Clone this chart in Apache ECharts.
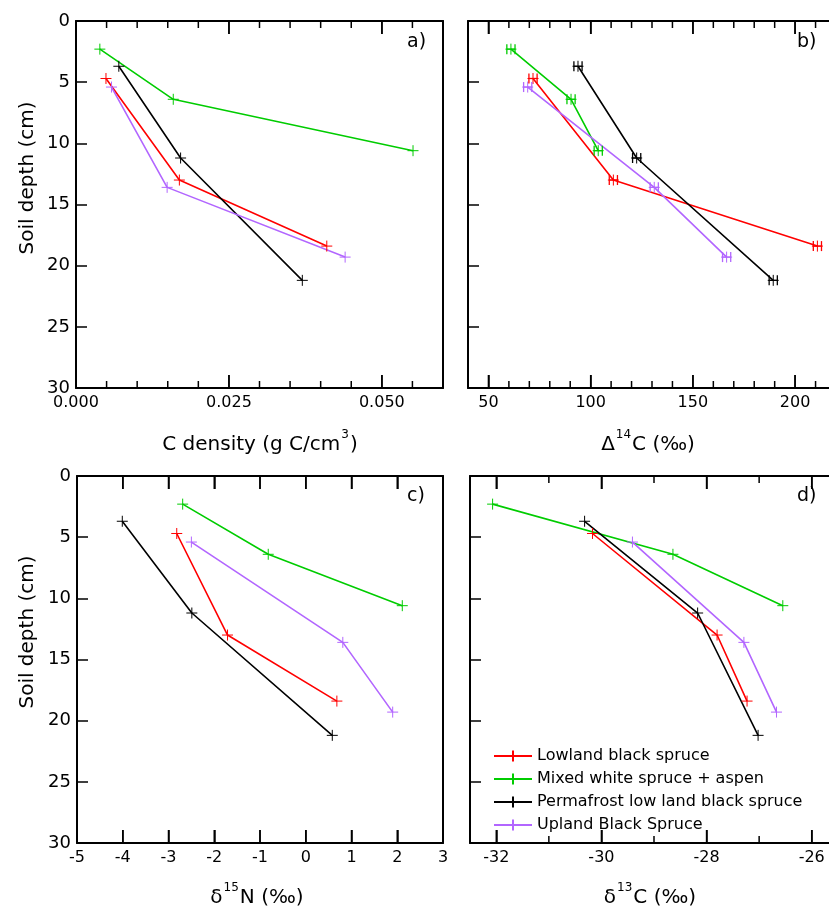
<!DOCTYPE html>
<html>
<head>
<meta charset="utf-8">
<script src="https://cdn.jsdelivr.net/npm/echarts@6/dist/echarts.min.js"></script>
<style>
  html, body { margin: 0; padding: 0; background: #ffffff; }
  #chart { width: 829px; height: 907px; }
</style>
</head>
<body>
<div id="chart"></div>
<script>
// Soil profiles: C density and isotope signatures versus depth for four stand types.
const FONT = 'DejaVu Sans';

const standNames = [
  'Lowland black spruce',
  'Mixed white spruce + aspen',
  'Permafrost low land black spruce',
  'Upland Black Spruce'
];
const standColors = ['#ff0000', '#00cc00', '#000000', '#b266ff'];

// Sample mid-depths (cm)
const depthLowland    = [4.7, 13.0, 18.4];
const depthMixed      = [2.3, 6.4, 10.6];
const depthPermafrost = [3.7, 11.2, 21.2];
const depthUpland     = [5.4, 13.6, 19.3];

// a) carbon density (g C / cm3)
const cDensLowland    = [0.0049, 0.0169, 0.0410];
const cDensMixed      = [0.0039, 0.0159, 0.0551];
const cDensPermafrost = [0.0070, 0.0171, 0.0370];
const cDensUpland     = [0.0058, 0.0149, 0.0440];

// b) radiocarbon, Delta14C (permil) and its analytical uncertainty
const d14cLowland    = [71.8, 111.1, 210.9];
const d14cMixed      = [61.0, 90.4, 103.7];
const d14cPermafrost = [93.8, 122.5, 189.3];
const d14cUpland     = [69.2, 131.1, 166.5];
const d14cErrLowland    = [2, 2, 2];
const d14cErrMixed      = [2, 2, 2];
const d14cErrPermafrost = [2, 2, 2];
const d14cErrUpland     = [2, 2, 2];

// c) delta15N (permil)
const d15nLowland    = [-2.82, -1.71, 0.68];
const d15nMixed      = [-2.69, -0.82, 2.11];
const d15nPermafrost = [-4.01, -2.49, 0.58];
const d15nUpland     = [-2.50, 0.81, 1.90];

// d) delta13C (permil)
const d13cLowland    = [-30.17, -27.80, -27.23];
const d13cMixed      = [-32.07, -28.64, -26.55];
const d13cPermafrost = [-30.32, -28.17, -27.02];
const d13cUpland     = [-29.41, -27.29, -26.67];

// Tick values along the x frames (labelled majors, shorter minors)
const cDensMajor = [0, 0.025, 0.05];
const cDensMinor = [0.005, 0.01, 0.015, 0.02, 0.03, 0.035, 0.04, 0.045, 0.055];
const d14cMajor  = [50, 100, 150, 200];
const d14cMinor  = [60, 70, 80, 90, 110, 120, 130, 140, 160, 170, 180, 190, 210];
const d15nMajor  = [-5, -4, -3, -2, -1, 0, 1, 2, 3];
const d13cMajor  = [-32, -30, -28, -26];
const d13cMinor  = [-31, -29, -27];

const depths = [depthLowland, depthMixed, depthPermafrost, depthUpland];

const panels = [
  { box: { left: 76, top: 21, width: 367, height: 367 }, min: 0, max: 0.06,
    spacing: { interval: 0.025 }, major: cDensMajor, minor: cDensMinor,
    fmt: v => v.toFixed(3), showMin: true, showMax: false, depthLabels: true, frameRight: true,
    values: [cDensLowland, cDensMixed, cDensPermafrost, cDensUpland] },
  { box: { left: 468, top: 21, width: 368, height: 367 }, min: 40, max: 220,
    spacing: { splitNumber: 4 }, major: d14cMajor, minor: d14cMinor,
    fmt: v => String(v), showMin: false, showMax: false, depthLabels: false, frameRight: false,
    values: [d14cLowland, d14cMixed, d14cPermafrost, d14cUpland],
    errors: [d14cErrLowland, d14cErrMixed, d14cErrPermafrost, d14cErrUpland] },
  { box: { left: 77, top: 476, width: 366, height: 367 }, min: -5, max: 3,
    spacing: { interval: 1 }, major: d15nMajor, minor: [],
    fmt: v => String(v), showMin: true, showMax: true, depthLabels: true, frameRight: true,
    values: [d15nLowland, d15nMixed, d15nPermafrost, d15nUpland] },
  { box: { left: 470, top: 476, width: 368, height: 367 }, min: -32.5, max: -25.5,
    spacing: { splitNumber: 3 }, major: d13cMajor, minor: d13cMinor,
    fmt: v => String(v), showMin: false, showMax: false, depthLabels: false, frameRight: false,
    values: [d13cLowland, d13cMixed, d13cPermafrost, d13cUpland] }
];

const MAJOR_LEN = 13, MINOR_LEN = 7;
const lineOf = (show) => ({ show, onZero: false, lineStyle: { color: '#000', width: 2 } });
const tickStyle = { color: '#000', width: 1.5 };
const grids = [], xAxes = [], yAxes = [], series = [];

// Inward tick marks on the bottom (depth 30) and top (depth 0) frames,
// positioned through the panel's own x and y scales. Each item is anchored
// mid-profile so it always lies inside the plot area.
function frameTicks(xIndex, yIndex, values, len) {
  return {
    type: 'custom', name: 'frame ticks', xAxisIndex: xIndex, yAxisIndex: yIndex,
    data: values.map(v => [v, 15]), animation: false, z: 5, clip: false,
    renderItem: (params, api) => {
      const v = api.value(0);
      const top = api.coord([v, 0]), bot = api.coord([v, 30]);
      const st = { stroke: '#000', lineWidth: 1.5 };
      return { type: 'group', children: [
        { type: 'line', shape: { x1: bot[0], y1: bot[1], x2: bot[0], y2: bot[1] - len }, style: st },
        { type: 'line', shape: { x1: top[0], y1: top[1], x2: top[0], y2: top[1] + len }, style: st }
      ]};
    }
  };
}

panels.forEach((p, i) => {
  grids.push(Object.assign({ outerBoundsMode: 'none', containLabel: false }, p.box));

  p.xIndex = xAxes.length;
  xAxes.push(Object.assign({
    gridIndex: i, type: 'value', position: 'bottom', min: p.min, max: p.max,
    axisLine: lineOf(true), splitLine: { show: false },
    axisTick: { show: true, inside: true, length: MAJOR_LEN, lineStyle: tickStyle },
    axisLabel: { show: true, formatter: p.fmt, margin: 7, showMinLabel: p.showMin,
      showMaxLabel: p.showMax, color: '#000', fontFamily: FONT, fontSize: 16 }
  }, p.spacing));
  xAxes.push(Object.assign({
    gridIndex: i, type: 'value', position: 'top', min: p.min, max: p.max,
    axisLine: lineOf(true), splitLine: { show: false },
    axisTick: { show: true, inside: true, length: MAJOR_LEN, lineStyle: tickStyle },
    axisLabel: { show: false }
  }, p.spacing));

  p.yIndex = yAxes.length;
  yAxes.push({
    gridIndex: i, type: 'value', position: 'left', inverse: true, min: 0, max: 30, interval: 5,
    axisLine: lineOf(true), splitLine: { show: false },
    axisTick: { show: true, inside: true, length: 11, lineStyle: tickStyle },
    axisLabel: { show: p.depthLabels, margin: 6, color: '#000', fontFamily: FONT, fontSize: 18 }
  });
  yAxes.push({
    gridIndex: i, type: 'value', position: 'right', inverse: true, min: 0, max: 30, interval: 5,
    axisLine: lineOf(p.frameRight),
    splitLine: { show: false }, axisTick: { show: false }, axisLabel: { show: false }
  });

  series.push(frameTicks(p.xIndex, p.yIndex, p.major, MAJOR_LEN));
  if (p.minor.length) series.push(frameTicks(p.xIndex, p.yIndex, p.minor, MINOR_LEN));

  // profile lines with "+" markers
  standNames.forEach((name, k) => {
    const data = p.values[k].map((v, j) => [v, depths[k][j]]);
    series.push({
      type: 'line', name, xAxisIndex: p.xIndex, yAxisIndex: p.yIndex, data,
      symbol: 'path://M0,5L10,5M5,0L5,10', symbolSize: 11,
      itemStyle: { color: standColors[k], borderColor: standColors[k], borderWidth: 1 },
      lineStyle: { color: standColors[k], width: 1.6 },
      animation: false, z: 3
    });
    if (p.errors) {
      const errData = p.values[k].map((v, j) => [v, depths[k][j], p.errors[k][j]]);
      series.push({
        type: 'custom', name, xAxisIndex: p.xIndex, yAxisIndex: p.yIndex, data: errData,
        renderItem: (params, api) => {
          const x = api.value(0), y = api.value(1), e = api.value(2);
          const a = api.coord([x - e, y]), b = api.coord([x + e, y]);
          const h = 5;
          const st = { stroke: standColors[k], lineWidth: 1.3 };
          return { type: 'group', children: [
            { type: 'line', shape: { x1: a[0], y1: a[1], x2: b[0], y2: b[1] }, style: st },
            { type: 'line', shape: { x1: a[0], y1: a[1] - h, x2: a[0], y2: a[1] + h }, style: st },
            { type: 'line', shape: { x1: b[0], y1: b[1] - h, x2: b[0], y2: b[1] + h }, style: st }
          ]};
        },
        animation: false, z: 4
      });
    }
  });
});

const titleStyle = {
  fill: '#000', font: '20px "DejaVu Sans"', align: 'center', verticalAlign: 'middle',
  rich: {
    t: { fontFamily: FONT, fontSize: 20, lineHeight: 26, verticalAlign: 'bottom' },
    s: { fontFamily: FONT, fontSize: 12, lineHeight: 26, verticalAlign: 'top', padding: [0, 1, 0, 1] }
  }
};
function titleText(x, y, text) {
  return { type: 'text', x, y, style: Object.assign({}, titleStyle, { text }) };
}
function panelLetter(x, y, text) {
  return { type: 'text', x, y, style: { text, fill: '#000', font: '19px "DejaVu Sans"', align: 'left', verticalAlign: 'middle' } };
}
function depthTitle(y) {
  return { type: 'text', x: 28, y, rotation: Math.PI / 2,
    style: { text: 'Soil depth (cm)', fill: '#000', font: '20px "DejaVu Sans"', align: 'center', verticalAlign: 'middle' } };
}

const graphic = [
  titleText(260, 442, '{t|C density (g C/cm}{s|3}{t|)}'),
  titleText(648, 442, '{t|Δ}{s|14}{t|C (‰)}'),
  titleText(257, 895, '{t|δ}{s|15}{t|N (‰)}'),
  titleText(650, 895, '{t|δ}{s|13}{t|C (‰)}'),
  depthTitle(178),
  depthTitle(632),
  panelLetter(407, 42, 'a)'),
  panelLetter(797, 42, 'b)'),
  panelLetter(407, 496, 'c)'),
  panelLetter(797, 496, 'd)')
];

const chart = echarts.init(document.getElementById('chart'), null, { renderer: 'canvas' });
chart.setOption({
  backgroundColor: '#ffffff',
  animation: false,
  textStyle: { fontFamily: FONT },
  grid: grids,
  xAxis: xAxes,
  yAxis: yAxes,
  series,
  legend: {
    data: standNames, orient: 'vertical', left: 488, top: 743,
    itemWidth: 38, itemHeight: 14, itemGap: 7,
    textStyle: { color: '#000', fontFamily: FONT, fontSize: 16 },
    backgroundColor: 'transparent'
  },
  graphic
});
</script>
</body>
</html>
